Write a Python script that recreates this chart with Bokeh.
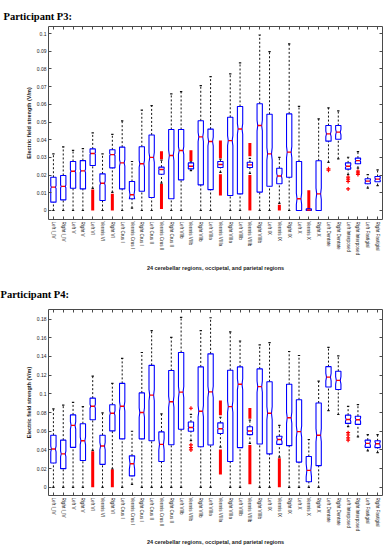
from bokeh.plotting import figure
from bokeh.layouts import column
from bokeh.models import Range1d, FixedTicker, LinearAxis
from bokeh.embed import file_html
from bokeh.resources import INLINE

regions = ["Left I_IV", "Right I_IV", "Left V", "Right V", "Left VI", "Vermis VI", "Right VI",
           "Left Crus I", "Vermis Crus I", "Right Crus I", "Left Crus II", "Vermis Crus II",
           "Right Crus II", "Left VIIb", "Vermis VIIb", "Right VIIb", "Left VIIIa", "Vermis VIIIa",
           "Right VIIIa", "Left VIIIb", "Vermis VIIIb", "Right VIIIb", "Left IX", "Vermis IX",
           "Right IX", "Left X", "Vermis X", "Right X", "Left Dentate", "Right Dentate",
           "Left Interposed", "Right Interposed", "Left Fastigial", "Right Fastigial"]
x_title = "24 cerebellar regions, occipetal, and parietal regions"
y_title = "Electric field strength (V/m)"

# ---------------- Participant P3 ----------------
p3_lo = [0, 0, 0, 0, 0.0125, 0, 0.0102, 0, 0.0013, 0, 0, 0.0155, 0, 0, 0.0225, 0, 0, 0.0215,
         0, 0, 0.021, 0, 0, 0.004, 0, 0, 0, 0, 0.0272, 0.0292, 0.0203, 0.0239, 0.0126, 0.0141]
p3_q1 = [0.0047, 0.006, 0.0126, 0.0122, 0.0254, 0.0056, 0.0241, 0.0122, 0.0066, 0.0109, 0.0073,
         0.0205, 0.0066, 0.0173, 0.0235, 0.0145, 0.0118, 0.0243, 0.0085, 0.0094, 0.0243, 0.0104,
         0.0137, 0.0151, 0.0188, 0.0, 0.0, 0.0, 0.0392, 0.0403, 0.0234, 0.0264, 0.0151, 0.0162]
p3_med = [0.0132, 0.0136, 0.0222, 0.0224, 0.0322, 0.0154, 0.0316, 0.0269, 0.0089, 0.0264, 0.030,
          0.0232, 0.0311, 0.0339, 0.025, 0.0416, 0.039, 0.026, 0.0395, 0.0461, 0.0258, 0.048,
          0.032, 0.0195, 0.033, 0.0066, 0.0003, 0.0094, 0.0433, 0.0443, 0.025, 0.0282, 0.0166, 0.0177]
p3_q3 = [0.0188, 0.0198, 0.0277, 0.0282, 0.0348, 0.0207, 0.0343, 0.0358, 0.0164, 0.036, 0.0427,
         0.0245, 0.0458, 0.0458, 0.0269, 0.0507, 0.046, 0.0277, 0.0527, 0.0588, 0.0273, 0.0603,
         0.0544, 0.0239, 0.0546, 0.0277, 0.0009, 0.0281, 0.048, 0.048, 0.0269, 0.0296, 0.0179, 0.0192]
p3_hi = [0.032, 0.036, 0.034, 0.035, 0.0439, 0.032, 0.043, 0.0507, 0.0277, 0.0567, 0.0593, 0.0285,
         0.0659, 0.0672, 0.0275, 0.0706, 0.0757, 0.029, 0.0772, 0.0834, 0.0295, 0.0992, 0.0898,
         0.0300, 0.0942, 0.0588, 0.0012, 0.0518, 0.058, 0.0563, 0.0301, 0.0333, 0.0203, 0.023]
p3_notch = [0.0008, 0.0008, 0.0009, 0.0009, 0.0005, 0.0012, 0.0006, 0.0018, 0.0025, 0.0019,
            0.0028, 0.0003, 0.0030, 0.0022, 0.0003, 0.0026, 0.0025, 0.0002, 0.0028, 0.0030,
            0.0002, 0.0030, 0.0035, 0.0015, 0.0032, 0.0032, 0.0001, 0.0032, 0.0015, 0.0015,
            0.0007, 0.0006, 0.0006, 0.0006]
# dense runs of outliers (region number, from, to)
p3_band_cat = [5, 7, 12, 12, 15, 18, 18, 21, 21, 24, 27]
p3_band_lo = [0.0, 0.0, 0.0008, 0.029, 0.028, 0.0295, 0.0085, 0.0307, 0.0, 0.0, 0.001]
p3_band_hi = [0.0118, 0.0095, 0.015, 0.0335, 0.034, 0.0395, 0.0205, 0.0382, 0.0201, 0.0032, 0.0115]
# single outliers
p3_out_cat = [29, 29, 31, 31, 31, 31, 32, 32, 32]
p3_out_val = [0.0236, 0.0228, 0.0188, 0.0177, 0.0164, 0.0122, 0.0222, 0.0212, 0.0204]
p3_yticks = [0, 0.01, 0.02, 0.03, 0.04, 0.05, 0.06, 0.07, 0.08, 0.09, 0.1]
p3_ylabels = ["0", "0.01", "0.02", "0.03", "0.04", "0.05", "0.06", "0.07", "0.08", "0.09", "0.1"]
p3_yrange = (-0.0051, 0.104)

# ---------------- Participant P4 ----------------
p4_lo = [0, 0, 0, 0, 0.0395, 0, 0.0195, 0, 0.0032, 0, 0, 0, 0, 0, 0.05, 0, 0, 0.043, 0, 0,
         0.047, 0, 0, 0.0323, 0, 0, 0, 0, 0.0821, 0.0779, 0.065, 0.054, 0.039, 0.0372]
p4_q1 = [0.026, 0.02, 0.0428, 0.0288, 0.0723, 0.0246, 0.0604, 0.0519, 0.0123, 0.0519, 0.0498,
         0.0277, 0.0456, 0.0621, 0.0600, 0.0435, 0.0453, 0.0576, 0.0277, 0.0425, 0.0564, 0.0463,
         0.0358, 0.046, 0.0446, 0.027, 0.006, 0.0232, 0.1074, 0.1046, 0.0684, 0.0674, 0.0428, 0.0425]
p4_med = [0.041, 0.0358, 0.0663, 0.0498, 0.0867, 0.0442, 0.0793, 0.0867, 0.0253, 0.08, 0.0986,
          0.046, 0.0916, 0.1018, 0.064, 0.0814, 0.1021, 0.0627, 0.0863, 0.1102, 0.0602, 0.1077,
          0.0793, 0.0512, 0.0744, 0.0596, 0.0182, 0.0558, 0.1179, 0.1144, 0.0726, 0.0723, 0.047, 0.0467]
p4_q3 = [0.0558, 0.0505, 0.0775, 0.0681, 0.0954, 0.0558, 0.0884, 0.1112, 0.0337, 0.101, 0.1305,
         0.0593, 0.1249, 0.1442, 0.0699, 0.1288, 0.1428, 0.069, 0.1253, 0.1288, 0.0648, 0.1267,
         0.113, 0.0547, 0.1102, 0.0937, 0.033, 0.0902, 0.1291, 0.1242, 0.0772, 0.0761, 0.0505, 0.0498]
p4_hi = [0.0839, 0.088, 0.0909, 0.0863, 0.119, 0.0796, 0.1112, 0.138, 0.06, 0.1442, 0.1677,
         0.0786, 0.1604, 0.1818, 0.078, 0.1677, 0.1814, 0.075, 0.1663, 0.1565, 0.072, 0.1523,
         0.1547, 0.0663, 0.1453, 0.141, 0.0512, 0.1137, 0.1498, 0.1407, 0.0865, 0.0884, 0.0565, 0.0565]
p4_notch = [0.003, 0.003, 0.004, 0.004, 0.002, 0.004, 0.0025, 0.005, 0.006, 0.005, 0.006, 0.006,
            0.006, 0.006, 0.001, 0.006, 0.006, 0.001, 0.006, 0.006, 0.0008, 0.006, 0.007, 0.0025,
            0.006, 0.006, 0.007, 0.007, 0.004, 0.004, 0.002, 0.002, 0.0025, 0.0025]
p4_band_cat = [5, 7, 18, 18, 21, 21, 24]
p4_band_lo = [0.0, 0.0, 0.077, 0.0137, 0.0735, 0.0032, 0.0]
p4_band_hi = [0.0386, 0.019, 0.093, 0.0405, 0.085, 0.0453, 0.031]
p4_out_cat = [15, 15, 15, 15, 31, 31, 31, 31]
p4_out_val = [0.0846, 0.0455, 0.0425, 0.040, 0.0585, 0.056, 0.053, 0.0505]
p4_yticks = [0, 0.02, 0.04, 0.06, 0.08, 0.1, 0.12, 0.14, 0.16, 0.18]
p4_ylabels = ["0", "0.02", "0.04", "0.06", "0.08", "0.1", "0.12", "0.14", "0.16", "0.18"]
p4_yrange = (-0.0087, 0.1902)

FONT = "Liberation Sans"
AXIS_COLOR = "#4a4a4a"


def panel(title, lo, q1, med, q3, hi, notch, bcat, blo, bhi, ocat, oval, yticks, ylabels, yr,
          height, mb_left, mb_right, mb_top, mb_bottom, xlab_standoff, title_standoff):
    n = len(regions)
    xs_c = list(range(1, n + 1))
    p = figure(width=386, height=height, x_range=Range1d(0.5, n + 0.5), y_range=Range1d(*yr),
               output_backend="svg", toolbar_location=None,
               min_border_left=mb_left, min_border_right=mb_right, min_border_top=mb_top,
               min_border_bottom=mb_bottom)
    p.xgrid.visible = False
    p.ygrid.visible = False
    p.outline_line_color = AXIS_COLOR
    p.outline_line_width = 1
    p.background_fill_color = "white"
    p.border_fill_color = "white"

    W, WN, C = 0.27, 0.2, 0.12
    bx, by = [], []
    for i in range(n):
        c, a, m, b, nt = xs_c[i], q1[i], med[i], q3[i], notch[i]
        bx.append([c - W, c - W, c - WN, c - W, c - W, c + W, c + W, c + WN, c + W, c + W])
        by.append([a, m - nt, m, m + nt, b, b, m + nt, m, m - nt, a])

    # whiskers
    p.segment(x0=xs_c, y0=q3, x1=xs_c, y1=hi, line_color="#111111", line_width=1,
              line_dash="2 2")
    p.segment(x0=xs_c, y0=lo, x1=xs_c, y1=q1, line_color="#111111", line_width=1,
              line_dash="2 2")
    p.segment(x0=[c - C for c in xs_c], y0=hi, x1=[c + C for c in xs_c], y1=hi,
              line_color="#111111", line_width=1.2)
    p.segment(x0=[c - C for c in xs_c], y0=lo, x1=[c + C for c in xs_c], y1=lo,
              line_color="#111111", line_width=1.2)
    # outliers
    p.segment(x0=bcat, y0=blo, x1=bcat, y1=bhi, line_color="#ff0000", line_width=3)
    p.scatter(x=ocat, y=oval, marker="cross", size=4, line_color="#ff0000", line_width=1.2)
    # boxes
    p.patches(bx, by, fill_color=None, line_color="#0000ff", line_width=1.1)
    p.segment(x0=[c - WN for c in xs_c], y0=med, x1=[c + WN for c in xs_c], y1=med,
              line_color="#ff0000", line_width=1.4)

    # axes
    xa = p.xaxis[0]
    xa.ticker = FixedTicker(ticks=xs_c)
    xa.major_label_overrides = {c: regions[c - 1] for c in xs_c}
    xa.major_label_orientation = "vertical"
    ya = p.yaxis[0]
    ya.ticker = FixedTicker(ticks=yticks)
    ya.major_label_overrides = {t: l for t, l in zip(yticks, ylabels)}
    xa.axis_label = x_title
    ya.axis_label = y_title
    for ax in (xa, ya):
        ax.axis_line_color = None
        ax.major_tick_in = 3
        ax.major_tick_out = 0
        ax.major_tick_line_color = AXIS_COLOR
        ax.minor_tick_line_color = None
        ax.major_label_text_font = FONT
        ax.major_label_text_color = "#1a1a1a"
        ax.major_label_standoff = 2
        ax.axis_label_text_font = FONT
        ax.axis_label_text_font_size = "5.5px"
        ax.axis_label_text_font_style = "bold"
        ax.axis_label_text_color = "#1a1a1a"
    xa.major_label_text_font_size = "4.6px"
    ya.major_label_text_font_size = "5px"
    xa.axis_label_standoff = xlab_standoff
    ya.axis_label_standoff = 2

    top = LinearAxis(ticker=FixedTicker(ticks=xs_c),
                     major_label_overrides={c: "" for c in xs_c},
                     major_label_text_font_size="0px", major_label_standoff=0,
                     major_tick_in=3, major_tick_out=0, minor_tick_line_color=None,
                     major_tick_line_color=AXIS_COLOR, axis_line_color=None)
    right = LinearAxis(ticker=FixedTicker(ticks=yticks),
                       major_label_overrides={t: "" for t in yticks},
                       major_label_text_font_size="0px", major_label_standoff=0,
                       major_tick_in=3, major_tick_out=0, minor_tick_line_color=None,
                       major_tick_line_color=AXIS_COLOR, axis_line_color=None)
    p.add_layout(top, "above")
    p.add_layout(right, "right")

    p.title.text = title
    p.title.text_font = "Liberation Serif"
    p.title.text_font_style = "bold"
    p.title.text_font_size = "10.5px"
    p.title.text_color = "black"
    p.title.align = "left"
    p.title.offset = -mb_left
    p.title.standoff = title_standoff
    return p


p3 = panel("Participant P3:", p3_lo, p3_q1, p3_med, p3_q3, p3_hi, p3_notch,
           p3_band_cat, p3_band_lo, p3_band_hi, p3_out_cat, p3_out_val,
           p3_yticks, p3_ylabels, p3_yrange, height=276, mb_left=45, mb_right=3,
           mb_top=26, mb_bottom=57, xlab_standoff=7, title_standoff=10)
p4 = panel("Participant P4:", p4_lo, p4_q1, p4_med, p4_q3, p4_hi, p4_notch,
           p4_band_cat, p4_band_lo, p4_band_hi, p4_out_cat, p4_out_val,
           p4_yticks, p4_ylabels, p4_yrange, height=272, mb_left=48, mb_right=4,
           mb_top=33, mb_bottom=49, xlab_standoff=5, title_standoff=19)

layout = column(p3, p4, spacing=0)
open("out.html", "w").write(file_html(layout, INLINE))
